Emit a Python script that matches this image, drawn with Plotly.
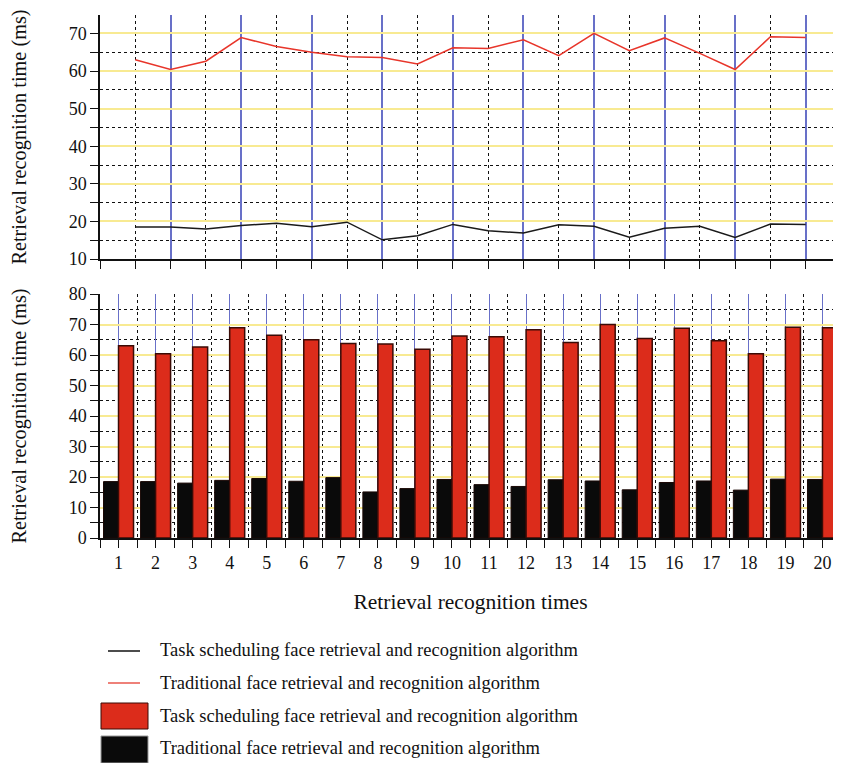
import plotly.graph_objects as go
from plotly.subplots import make_subplots

# values
runs = list(range(1, 21))
task_ms = [18.5, 18.5, 18.0, 18.9, 19.5, 18.6, 19.8, 15.1, 16.2, 19.2,
           17.5, 16.9, 19.1, 18.7, 15.8, 18.2, 18.7, 15.7, 19.3, 19.2]
traditional_ms = [63.0, 60.4, 62.6, 68.9, 66.5, 65.0, 63.8, 63.6, 61.9, 66.2,
                  66.0, 68.3, 64.1, 70.0, 65.4, 68.8, 64.7, 60.4, 69.1, 68.9]

legend_names = ['Task scheduling face retrieval and recognition algorithm',
                'Traditional face retrieval and recognition algorithm',
                'Task scheduling face retrieval and recognition algorithm',
                'Traditional face retrieval and recognition algorithm']

RED = '#DC2C1B'
BLACK = '#0A0A0A'
BLUE = '#6870C8'
YELLOW = '#F8EA92'
FONT = 'Liberation Serif'

# the page body has an 8px margin, so the figure is made 8px smaller
OFF = 8
W, H = 841 - OFF, 763 - OFF
L, R, T = 100 - OFF, 0, 15 - OFF
B = H - (538 - OFF)
plot_h = H - T - B
plot_w = W - L - R


def px_x(p):
    # p is a page pixel
    return (p - OFF - L) / plot_w


def px_y(p):
    return (H - B - (p - OFF)) / plot_h


fig = make_subplots(rows=2, cols=1)

fig.add_trace(go.Scatter(x=runs, y=task_ms, mode='lines', name=legend_names[0],
                         line=dict(color='#1a1a1a', width=1.5)), row=1, col=1)
fig.add_trace(go.Scatter(x=runs, y=traditional_ms, mode='lines', name=legend_names[1],
                         line=dict(color='#E8352A', width=1.5)), row=1, col=1)

fig.add_trace(go.Bar(x=runs, y=task_ms, name=legend_names[3],
                     marker=dict(color=BLACK, line=dict(color='#1a0805', width=1))),
              row=2, col=1)
fig.add_trace(go.Bar(x=runs, y=traditional_ms, name=legend_names[2],
                     marker=dict(color=RED, line=dict(color='#3a0b06', width=1.5))),
              row=2, col=1)

dot_minor = dict(showgrid=True, griddash='dot', gridcolor='#111', gridwidth=1,
                 ticks='outside', ticklen=8, tickcolor='#111', tickwidth=1.2)
ytitle = dict(text='Retrieval recognition time (ms)', standoff=39,
              font=dict(family=FONT, size=20.3, color='#111'))

# top panel
fig.update_xaxes(range=[0, 21], tick0=0, dtick=2, showticklabels=False,
                 showgrid=True, gridcolor=BLUE, gridwidth=1.6,
                 ticks='outside', ticklen=8, tickcolor='#111', tickwidth=1.2,
                 showline=True, linecolor='#111', linewidth=1.5,
                 minor=dict(dtick=1, tick0=0, **dot_minor), zeroline=False,
                 domain=[0, 1], automargin=False, row=1, col=1)
fig.update_yaxes(range=[10, 74.9], tick0=0, dtick=10,
                 showgrid=True, gridcolor=YELLOW, gridwidth=1.5,
                 ticks='outside', ticklen=8, tickcolor='#111', tickwidth=1.2,
                 showline=True, linecolor='#111', linewidth=1.5,
                 minor=dict(dtick=5, tick0=0, **dot_minor), zeroline=False,
                 title=ytitle, automargin=False,
                 domain=[px_y(259), 1], row=1, col=1)

# bottom panel
fig.update_xaxes(range=[0.5, 20.5], tick0=0, dtick=1,
                 showgrid=True, gridcolor=BLUE, gridwidth=1,
                 ticks='outside', ticklen=8, tickcolor='#111', tickwidth=1.2,
                 showline=True, linecolor='#111', linewidth=1.5,
                 minor=dict(dtick=0.5, tick0=0, **dot_minor), zeroline=False,
                 title=dict(text='Retrieval recognition times', standoff=22,
                            font=dict(family=FONT, size=21.5, color='#111')),
                 domain=[0, 1], automargin=False, row=2, col=1)
fig.update_yaxes(range=[0, 80], tick0=0, dtick=10,
                 showgrid=True, gridcolor=YELLOW, gridwidth=1.5,
                 ticks='outside', ticklen=8, tickcolor='#111', tickwidth=1.2,
                 showline=True, linecolor='#111', linewidth=1.5,
                 minor=dict(dtick=5, tick0=0, **dot_minor), zeroline=False,
                 title=ytitle, automargin=False,
                 domain=[0, px_y(294)], row=2, col=1)

# legend drawn by hand to get the large swatches
fig.add_shape(type='line', xref='paper', yref='paper', x0=px_x(108), x1=px_x(140),
              y0=px_y(651), y1=px_y(651), line=dict(color='#111', width=1.5))
fig.add_shape(type='line', xref='paper', yref='paper', x0=px_x(108), x1=px_x(140),
              y0=px_y(683), y1=px_y(683), line=dict(color='#E8574C', width=1.5))
fig.add_shape(type='rect', xref='paper', yref='paper', x0=px_x(101), x1=px_x(148),
              y0=px_y(703), y1=px_y(729), fillcolor=RED, line=dict(color='#3a0b06', width=1))
fig.add_shape(type='rect', xref='paper', yref='paper', x0=px_x(101), x1=px_x(148),
              y0=px_y(736), y1=px_y(763), fillcolor=BLACK, line=dict(color='#999', width=1))
for name, yc in zip(legend_names, [650, 683, 716, 748]):
    fig.add_annotation(xref='paper', yref='paper', x=px_x(158), y=px_y(yc),
                       text=name, showarrow=False, xanchor='left', yanchor='middle',
                       font=dict(family=FONT, size=18.5, color='#111'))

fig.update_layout(width=W, height=H, margin=dict(l=L, r=R, t=T, b=B),
                  plot_bgcolor='white', paper_bgcolor='white',
                  barmode='group', bargap=0.19, bargroupgap=0,
                  showlegend=False,
                  font=dict(family=FONT, size=18, color='#111'))

fig.write_html("out.html")
